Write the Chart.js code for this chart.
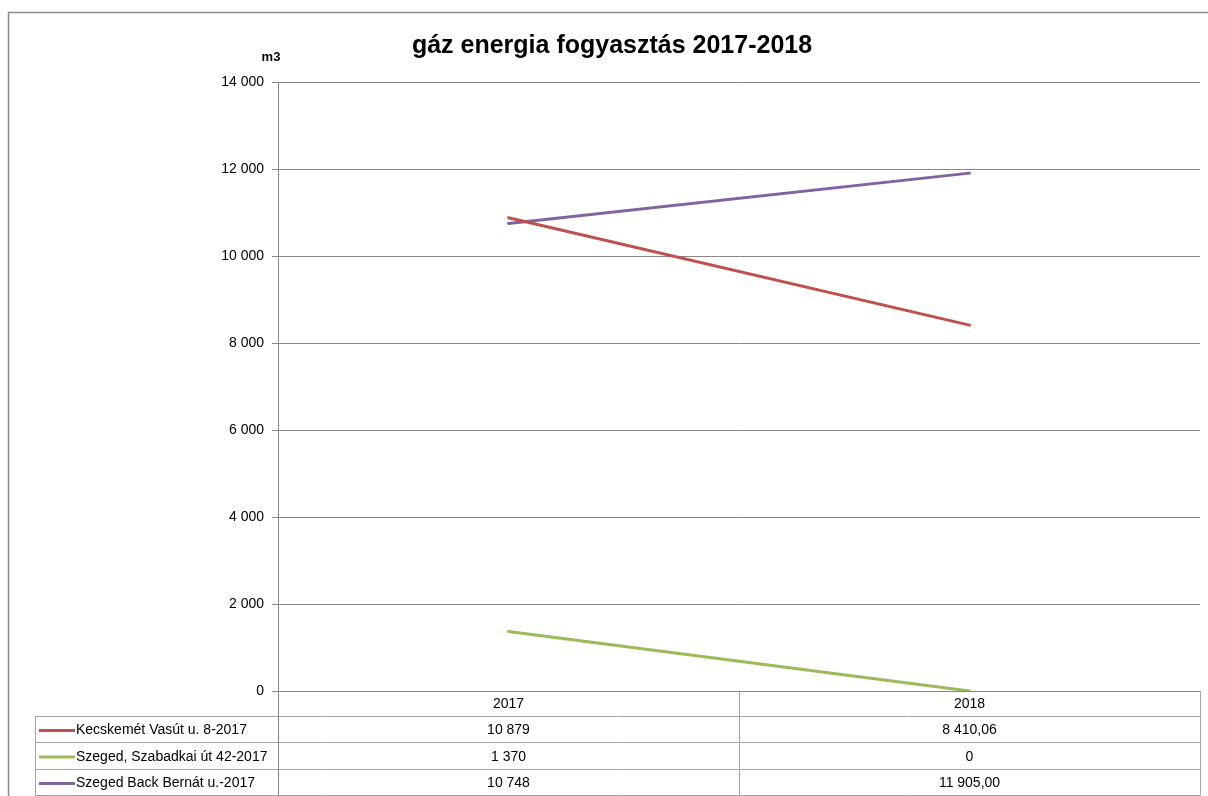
<!DOCTYPE html>
<html>
<head>
<meta charset="utf-8">
<script src="https://cdn.jsdelivr.net/npm/chart.js@4.4.1/dist/chart.umd.min.js"></script>
<style>
  html, body { margin: 0; padding: 0; background: #ffffff; }
  canvas { display: block; }
</style>
</head>
<body>
<canvas id="c" width="1208" height="796"></canvas>
<script>
// ---- data ----
const chartTitle = 'gáz energia fogyasztás 2017-2018';
const unitLabel = 'm3';
const categories = ['2017', '2018'];
const seriesNames = ['Kecskemét Vasút u. 8-2017', 'Szeged, Szabadkai út 42-2017', 'Szeged Back Bernát u.-2017'];
const kecskemetValues = [10879, 8410.06];
const szabadkaiValues = [1370, 0];
const backBernatValues = [10748, 11905.00];
const tableDecimals = [[0, 2], [0, 0], [0, 2]];
const yTicks = [0, 2000, 4000, 6000, 8000, 10000, 12000, 14000];
const seriesColors = ['#C0504D', '#9BBB59', '#8064A2'];

const allValues = [kecskemetValues, szabadkaiValues, backBernatValues];

function fmt(v, dec) {
  const parts = v.toFixed(dec).split('.');
  const intPart = parts[0].replace(/\B(?=(\d{3})+(?!\d))/g, ' ');
  return parts.length > 1 ? intPart + ',' + parts[1] : intPart;
}

const FONT = '"Liberation Sans", Arial, sans-serif';
const GRID = '#878787';
const TABLE = '#a6a6a6';

const decorPlugin = {
  id: 'decor',
  afterDraw(chart) {
    const ctx = chart.ctx;
    const area = chart.chartArea;
    const xs = chart.scales.x;
    ctx.save();
    // outer border
    ctx.strokeStyle = '#8c8c8c';
    ctx.lineWidth = 1.5;
    ctx.strokeRect(8.5, 12.5, 1400, 1000);

    // title
    ctx.fillStyle = '#000000';
    ctx.font = 'bold 25px ' + FONT;
    ctx.textAlign = 'center';
    ctx.textBaseline = 'alphabetic';
    ctx.fillText(chartTitle, 612, 53);

    // unit label
    ctx.font = 'bold 13px ' + FONT;
    ctx.fillText(unitLabel, 271, 61);

    // data table
    const top = area.bottom;
    const headerH = 25;
    const rowH = 26.3;
    const rowTop = r => Math.round(top + headerH + r * rowH) + 0.5;
    const legendLeft = 35;
    const left = area.left;
    const right = area.right;
    const mid = (xs.getPixelForValue(0) + xs.getPixelForValue(1)) / 2;
    const bottom = rowTop(seriesNames.length);
    ctx.strokeStyle = TABLE;
    ctx.lineWidth = 1;
    ctx.beginPath();
    for (let r = 0; r <= seriesNames.length; r++) {
      const y = rowTop(r);
      ctx.moveTo(legendLeft, y);
      ctx.lineTo(right, y);
    }
    ctx.moveTo(legendLeft + 0.5, rowTop(0));
    ctx.lineTo(legendLeft + 0.5, bottom);
    ctx.moveTo(Math.round(mid) + 0.5, top);
    ctx.lineTo(Math.round(mid) + 0.5, bottom);
    ctx.moveTo(Math.round(right) + 0.5, top);
    ctx.lineTo(Math.round(right) + 0.5, bottom);
    ctx.stroke();
    ctx.strokeStyle = GRID;
    ctx.beginPath();
    ctx.moveTo(Math.round(left) + 0.5, top);
    ctx.lineTo(Math.round(left) + 0.5, bottom);
    ctx.stroke();

    ctx.font = '14px ' + FONT;
    ctx.fillStyle = '#000000';
    ctx.textBaseline = 'middle';
    ctx.textAlign = 'center';
    categories.forEach((c, i) => {
      ctx.fillText(c, xs.getPixelForValue(i), top + headerH / 2 + 1);
    });
    seriesNames.forEach((name, s) => {
      const yc = (rowTop(s) + rowTop(s + 1)) / 2 + 1;
      ctx.strokeStyle = seriesColors[s];
      ctx.lineWidth = 3;
      ctx.beginPath();
      ctx.moveTo(39, yc);
      ctx.lineTo(75, yc);
      ctx.stroke();
      ctx.textAlign = 'left';
      ctx.fillStyle = '#000000';
      ctx.fillText(name, 76, yc);
      ctx.textAlign = 'center';
      allValues[s].forEach((v, i) => {
        ctx.fillText(fmt(v, tableDecimals[s][i]), xs.getPixelForValue(i), yc);
      });
    });
    ctx.restore();
  }
};

new Chart(document.getElementById('c'), {
  type: 'line',
  data: {
    labels: categories,
    datasets: seriesNames.map((n, i) => ({
      label: n,
      data: allValues[i],
      borderColor: seriesColors[i],
      backgroundColor: seriesColors[i],
      borderWidth: 3,
      pointRadius: 0,
      tension: 0,
      borderCapStyle: 'round'
    }))
  },
  options: {
    responsive: false,
    animation: false,
    devicePixelRatio: 1,
    layout: { padding: { left: 26, top: 82, right: 8, bottom: 105 } },
    plugins: {
      legend: { display: false },
      title: { display: false },
      tooltip: { enabled: false }
    },
    scales: {
      x: {
        display: false,
        offset: true
      },
      y: {
        min: 0,
        max: 14000,
        afterBuildTicks(scale) { scale.ticks = yTicks.map(v => ({ value: v })); },
        afterFit(scale) { scale.width = 252; },
        ticks: {
          font: { family: FONT, size: 14 },
          color: '#000000',
          padding: 8,
          callback: v => fmt(v, 0)
        },
        grid: { color: GRID, tickLength: 6, lineWidth: 1 },
        border: { display: true, color: GRID, width: 1 }
      }
    }
  },
  plugins: [decorPlugin]
});
</script>
</body>
</html>
